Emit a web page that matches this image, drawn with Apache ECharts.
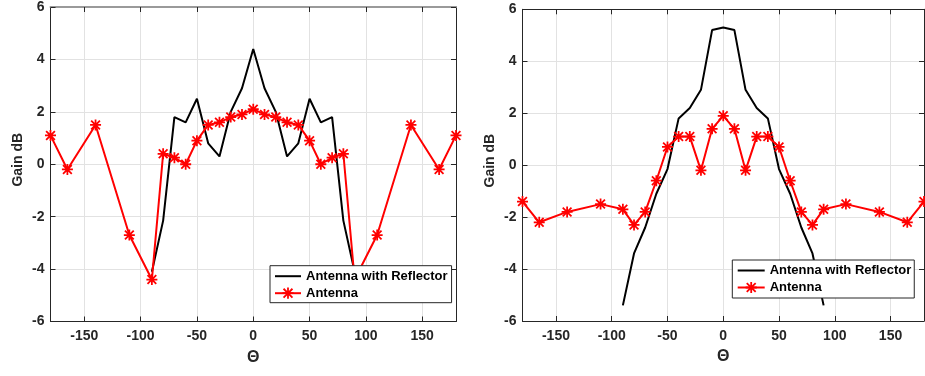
<!DOCTYPE html>
<html>
<head>
<meta charset="utf-8">
<script src="https://cdn.jsdelivr.net/npm/echarts@6/dist/echarts.min.js"></script>
<style>
  html, body { margin: 0; padding: 0; background: #fff; }
  #chart { width: 925px; height: 376px; }
</style>
</head>
<body>
<div id="chart"></div>
<script>
// Angles (degrees) of the measured points
const antennaAngles = [-180, -165, -140, -110, -90, -80, -70, -60, -50, -40, -30, -20, -10, 0,
                       10, 20, 30, 40, 50, 60, 70, 80, 90, 110, 140, 165, 180];
const reflectorAngles = [-90, -80, -70, -60, -50, -40, -30, -20, -10, 0, 10, 20, 30, 40, 50, 60, 70, 80, 90];

// Left panel gains (dB)
const leftReflector = [-4.1, -2.15, 1.8, 1.6, 2.5, 0.8, 0.3, 2.0, 2.9, 4.4, 2.9, 2.0, 0.3, 0.8, 2.5, 1.6, 1.8, -2.15, -4.1];
const leftAntenna = [1.1, -0.2, 1.5, -2.7, -4.4, 0.4, 0.25, 0, 0.9, 1.5, 1.6, 1.8, 1.9, 2.1,
                     1.9, 1.8, 1.6, 1.5, 0.9, 0, 0.25, 0.4, -4.4, -2.7, 1.5, -0.2, 1.1];

// Right panel gains (dB)
const rightReflector = [-5.4, -3.4, -2.4, -1.1, -0.15, 1.8, 2.2, 2.9, 5.2, 5.3, 5.2, 2.9, 2.2, 1.8, -0.15, -1.1, -2.4, -3.4, -5.4];
const rightAntenna = [-1.4, -2.2, -1.8, -1.5, -1.7, -2.3, -1.8, -0.6, 0.7, 1.1, 1.1, -0.2, 1.4, 1.9,
                      1.4, -0.2, 1.1, 1.1, 0.7, -0.6, -1.8, -2.3, -1.7, -1.5, -1.8, -2.2, -1.4];

// Axis ticks
const thetaTicks = [-150, -100, -50, 0, 50, 100, 150];
const thetaRange = [-180, 180];
const gainRange = [-6, 6];
const gainStep = 2;

const seriesNames = ['Antenna with Reflector', 'Antenna'];

const FONT = '"Liberation Sans", Arial, Helvetica, sans-serif';
const INK = '#262626';
const GRID_LINE = '#e2e2e2';

// Asterisk marker built from four bars
const STAR = 'path://M0 8.4H20V11.6H0Z M8.4 0H11.6V20H8.4Z ' +
             'M0.9 3.2L3.2 0.9L19.1 16.8L16.8 19.1Z M16.8 0.9L19.1 3.2L3.2 19.1L0.9 16.8Z';

const pairs = (xs, ys) => xs.map((x, i) => [x, ys[i]]);

function thetaAxis(gridIndex, position, main, lineColor, lineWidth) {
  return {
    type: 'value',
    gridIndex: gridIndex,
    position: position,
    min: thetaRange[0],
    max: thetaRange[1],
    name: main ? 'Θ' : '',
    nameLocation: 'middle',
    nameGap: 28,
    nameTextStyle: { fontFamily: FONT, fontWeight: 'bold', fontSize: 16, color: INK },
    axisLine: { show: true, onZero: false, lineStyle: { color: lineColor, width: lineWidth } },
    axisTick: { show: true, inside: true, length: 5, customValues: thetaTicks, lineStyle: { color: INK, width: 1 } },
    axisLabel: {
      show: main, customValues: thetaTicks, margin: 8,
      fontFamily: FONT, fontWeight: 'bold', fontSize: 14, color: INK
    },
    splitLine: { show: main, lineStyle: { color: GRID_LINE, width: 1 } }
  };
}

function gainAxis(gridIndex, position, main, lineColor) {
  return {
    type: 'value',
    gridIndex: gridIndex,
    position: position,
    min: gainRange[0],
    max: gainRange[1],
    interval: gainStep,
    name: main ? 'Gain dB' : '',
    nameLocation: 'middle',
    nameRotate: 90,
    nameGap: 25,
    nameTextStyle: { fontFamily: FONT, fontWeight: 'bold', fontSize: 14, color: INK, padding: [0, 0, 0, 9] },
    axisLine: { show: true, onZero: false, lineStyle: { color: lineColor, width: 1 } },
    axisTick: { show: true, inside: true, length: 5, lineStyle: { color: INK, width: 1 } },
    axisLabel: {
      show: main, margin: 6,
      fontFamily: FONT, fontWeight: 'bold', fontSize: 14, color: INK
    },
    splitLine: { show: main, lineStyle: { color: GRID_LINE, width: 1 } }
  };
}

function legendBox(left, top, pad, itemWidth) {
  return {
    orient: 'vertical',
    left: left,
    top: top,
    padding: pad,
    itemWidth: itemWidth,
    itemHeight: 14,
    itemGap: 4,
    borderColor: INK,
    borderWidth: 1,
    borderRadius: 0,
    backgroundColor: '#fff',
    selectedMode: false,
    data: [
      // plain line sample, no marker
      { name: seriesNames[0], itemStyle: { opacity: 0 } },
      { name: seriesNames[1] }
    ],
    textStyle: { fontFamily: FONT, fontWeight: 'bold', fontSize: 13, color: '#000' }
  };
}

function reflectorSeries(idx, values) {
  return {
    name: seriesNames[0],
    type: 'line',
    xAxisIndex: idx * 2,
    yAxisIndex: idx * 2,
    data: pairs(reflectorAngles, values),
    symbol: 'none',
    showSymbol: false,
    lineStyle: { color: '#000', width: 2 },
    itemStyle: { color: '#000' },
    z: 2
  };
}

function antennaSeries(idx, values) {
  return {
    name: seriesNames[1],
    type: 'line',
    xAxisIndex: idx * 2,
    yAxisIndex: idx * 2,
    data: pairs(antennaAngles, values),
    symbol: STAR,
    symbolSize: 11,
    showAllSymbol: true,
    lineStyle: { color: '#ff0000', width: 2 },
    itemStyle: { color: '#ff0000' },
    z: 3
  };
}

const chart = echarts.init(document.getElementById('chart'), null, { renderer: 'canvas' });

chart.setOption({
  animation: false,
  backgroundColor: '#fff',
  grid: [
    { left: 50.5, top: 5, width: 405.5, height: 316.5, containLabel: false },
    { left: 522.5, top: 9.3, width: 401.5, height: 311.7, containLabel: false }
  ],
  xAxis: [
    thetaAxis(0, 'bottom', true, INK, 1),
    thetaAxis(0, 'top', false, '#9a9a9a', 2),
    thetaAxis(1, 'bottom', true, INK, 1),
    thetaAxis(1, 'top', false, INK, 1)
  ],
  yAxis: [
    gainAxis(0, 'left', true, INK),
    gainAxis(0, 'right', false, INK),
    gainAxis(1, 'left', true, INK),
    gainAxis(1, 'right', false, INK)
  ],
  legend: [
    legendBox(270, 265.7, [4, 4, 3, 4], 26),
    legendBox(732.3, 260, [4, 3, 4, 4.4], 27)
  ],
  series: [
    reflectorSeries(0, leftReflector),
    antennaSeries(0, leftAntenna),
    reflectorSeries(1, rightReflector),
    antennaSeries(1, rightAntenna)
  ]
});
</script>
</body>
</html>
